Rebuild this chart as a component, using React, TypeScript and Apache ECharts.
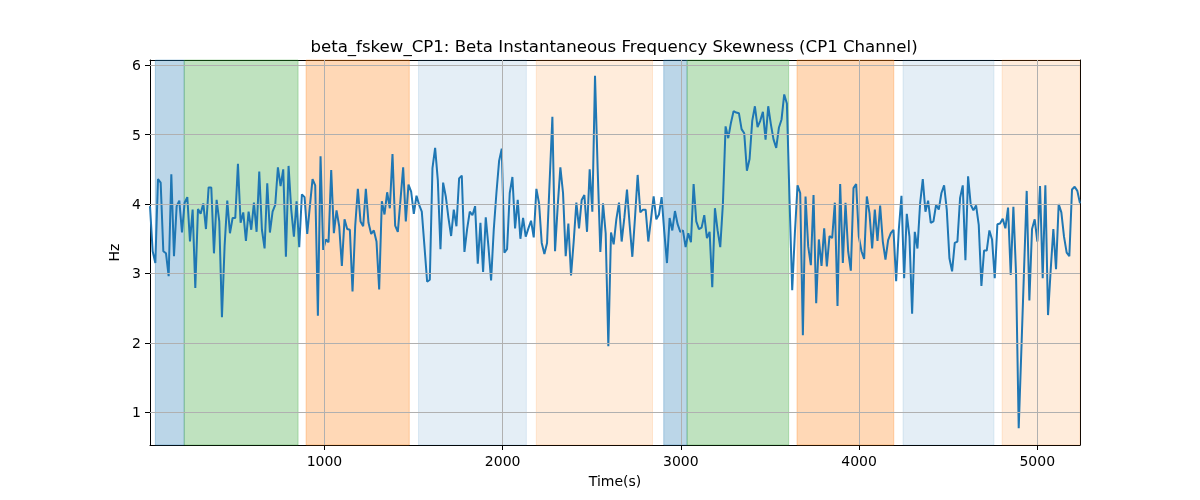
import { useEffect, useRef } from "react";
import * as echarts from "echarts";

// signal sampled at a fixed step between the first and last time stamp
const T_START = 21;
const T_END = 5240;

const SKEW_VALUES = [
  3.97, 3.32, 3.15, 4.36, 4.31, 3.32, 3.29, 2.96, 4.43, 3.25, 3.97, 4.05, 3.59, 4.02, 4.1,
  3.46, 3.92, 2.79, 3.93, 3.86, 4.01, 3.64, 4.24, 4.24, 3.29, 4.06, 3.75, 2.37, 3.4, 4.05,
  3.58, 3.8, 3.8, 4.58, 3.73, 3.88, 3.47, 3.89, 3.63, 4.02, 3.6, 4.47, 3.63, 3.36, 4.3,
  3.59, 3.89, 3.99, 4.53, 4.26, 4.5, 3.24, 4.55, 3.92, 3.53, 4.04, 3.38, 4.14, 4.1, 3.57,
  3.97, 4.36, 4.27, 2.39, 4.69, 3.34, 3.49, 3.45, 4.49, 3.58, 3.91, 3.68, 3.11, 3.78, 3.64,
  3.63, 2.74, 3.68, 4.22, 3.75, 3.68, 4.22, 3.73, 3.57, 3.62, 3.46, 2.77, 4.04, 3.85,
  4.17, 3.94, 4.72, 3.69, 3.6, 4.06, 4.53, 3.75, 4.28, 4.18, 3.86, 4.12, 3.99, 3.89, 3.39,
  2.88, 2.91, 4.52, 4.81, 4.35, 3.35, 4.31, 4.11, 3.8, 3.54, 3.92, 3.68, 4.37, 4.41, 3.31,
  3.64, 3.89, 3.84, 3.97, 3.14, 3.73, 3.02, 3.81, 3.39, 2.9, 3.63, 4.16, 4.62, 4.8,
  3.3, 3.35, 4.16, 4.39, 3.65, 4.06, 3.5, 3.8, 3.53, 3.65, 3.76, 3.52, 4.22, 4.01, 3.44,
  3.28, 3.44, 4.35, 5.26, 3.32, 3.97, 4.53, 4.16, 3.25, 3.72, 2.97, 3.46, 4.02, 3.65, 4.06,
  4.13, 3.6, 4.5, 3.89, 5.85, 4.5, 3.31, 4.01, 3.58, 1.95, 3.59, 3.42, 3.78, 4.02,
  3.46, 3.8, 4.21, 3.7, 3.24, 3.8, 4.42, 3.88, 3.92, 3.92, 3.46, 3.78, 4.11, 3.78, 3.85,
  4.1, 3.6, 3.15, 3.8, 3.62, 3.9, 3.71, 3.6, 3.62, 3.38, 3.58, 3.45, 4.29, 3.75, 3.64,
  3.66, 3.84, 3.51, 3.6, 2.8, 3.94, 3.62, 3.38, 4.01, 5.12, 4.95, 5.17, 5.34, 5.32,
  5.31, 5.08, 5.02, 4.48, 4.65, 5.2, 5.41, 5.11, 5.2, 5.33, 4.93, 5.41, 5.15, 4.93, 4.81,
  5.1, 5.22, 5.58, 5.45, 4.06, 2.76, 3.58, 4.27, 4.16, 2.11, 4.11, 3.39, 3.12, 4.13, 2.57,
  3.49, 3.11, 3.65, 3.1, 3.54, 3.51, 4.02, 2.53, 4.29, 3.15, 4.02, 3.32, 3.04, 4.23,
  4.29, 3.53, 3.32, 3.21, 4.11, 3.87, 3.36, 3.92, 3.47, 3.98, 3.46, 3.2, 3.48, 3.58, 3.63,
  2.89, 3.63, 4.12, 2.93, 3.86, 3.53, 2.42, 3.6, 3.36, 4.01, 4.36, 3.89, 4.05, 3.73, 3.75,
  3.99, 3.92, 4.16, 4.27, 3.92, 3.22, 3.03, 3.44, 3.46, 4.09, 4.27, 3.19, 4.4,
  3.99, 3.91, 3.98, 3.7, 2.82, 3.33, 3.33, 3.62, 3.49, 2.93, 3.71, 3.72, 3.79, 3.65, 3.95,
  2.98, 3.96, 3.0, 0.77, 1.9, 3.05, 4.19, 2.61, 3.64, 3.78, 3.46, 4.26, 2.93, 4.27, 2.4,
  3.05, 3.64, 3.06, 4.0, 3.88, 3.53, 3.3, 3.25, 4.21, 4.25, 4.19, 4.01,
];

// shaded stage intervals (seconds)
const SPAN_START = [51, 213, 897, 1528, 2189, 2904, 3035, 3652, 4247, 4803];
const SPAN_END = [213, 852, 1476, 2133, 2841, 3035, 3605, 4195, 4757, 5240];
const SPAN_KIND = ["blue", "green", "orange", "paleBlue", "paleOrange", "blue", "green", "orange", "paleBlue", "paleOrange"];

const X_TICKS = [1000, 2000, 3000, 4000, 5000];
const Y_TICKS = [1, 2, 3, 4, 5, 6];
const Y_MIN = 0.527;
const Y_MAX = 6.077;

const SPAN_COLORS: Record<string, string> = {
  blue: "rgba(31,119,180,0.3)",
  green: "rgba(44,160,44,0.3)",
  orange: "rgba(255,127,14,0.3)",
  paleBlue: "rgba(31,119,180,0.12)",
  paleOrange: "rgba(255,127,14,0.15)",
};

const FONT = "DejaVu Sans";

export default function App() {
  const chartRef = useRef<HTMLDivElement>(null);

  useEffect(() => {
    if (!chartRef.current) return;
    const chart = echarts.init(chartRef.current, null, { renderer: "svg" });

    const step = (T_END - T_START) / (SKEW_VALUES.length - 1);
    const lineData = SKEW_VALUES.map((v, i) => [T_START + i * step, v]);

    const spans = SPAN_START.map((s, i) => {
      const color = SPAN_COLORS[SPAN_KIND[i]];
      return [
        { xAxis: s, itemStyle: { color, borderColor: color, borderWidth: 1 } },
        { xAxis: SPAN_END[i] },
      ];
    });

    const gridLines = [
      ...X_TICKS.map((t) => ({ xAxis: t })),
      ...Y_TICKS.map((t) => ({ yAxis: t })),
    ];

    const frame = { show: true, onZero: false, lineStyle: { color: "#000", width: 1 } };
    const labelStyle = { color: "#000", fontSize: 14, fontFamily: FONT };

    chart.setOption({
      animation: false,
      title: {
        text: "beta_fskew_CP1: Beta Instantaneous Frequency Skewness (CP1 Channel)",
        left: 609,
        top: 33,
        textAlign: "center",
        textStyle: { color: "#000", fontSize: 16.6, fontWeight: "normal", fontFamily: FONT },
      },
      grid: { left: 150, right: 120, top: 60, bottom: 55 },
      xAxis: [
        {
          type: "value",
          min: T_START,
          max: T_END,
          position: "bottom",
          axisLine: frame,
          axisTick: { show: true, length: 5, customValues: X_TICKS, lineStyle: { color: "#000" } },
          axisLabel: {
            ...labelStyle,
            margin: 9,
            customValues: X_TICKS,
            formatter: (v: number) => String(v),
          },
          splitLine: { show: false },
          name: "Time(s)",
          nameLocation: "middle",
          nameGap: 29,
          nameTextStyle: labelStyle,
        },
        {
          type: "value",
          min: T_START,
          max: T_END,
          position: "top",
          axisLine: frame,
          axisTick: { show: false },
          axisLabel: { show: false },
          splitLine: { show: false },
        },
      ],
      yAxis: [
        {
          type: "value",
          min: Y_MIN,
          max: Y_MAX,
          position: "left",
          axisLine: frame,
          axisTick: { show: true, length: 5, customValues: Y_TICKS, lineStyle: { color: "#000" } },
          axisLabel: { ...labelStyle, margin: 9, customValues: Y_TICKS },
          splitLine: { show: false },
          name: "Hz",
          nameLocation: "middle",
          nameGap: 20,
          nameTextStyle: labelStyle,
        },
        {
          type: "value",
          min: Y_MIN,
          max: Y_MAX,
          position: "right",
          axisLine: frame,
          axisTick: { show: false },
          axisLabel: { show: false },
          splitLine: { show: false },
        },
      ],
      series: [
        {
          name: "spans",
          type: "line",
          data: [],
          z: 1,
          silent: true,
          markArea: { silent: true, data: spans },
        },
        {
          name: "grid",
          type: "line",
          data: [],
          z: 2,
          silent: true,
          markLine: {
            silent: true,
            symbol: "none",
            label: { show: false },
            lineStyle: { color: "#b0b0b0", width: 1, type: "solid" },
            emphasis: { disabled: true },
            data: gridLines,
          },
        },
        {
          name: "beta_fskew_CP1",
          type: "line",
          data: lineData,
          z: 3,
          showSymbol: false,
          lineStyle: { color: "#1f77b4", width: 2 },
          itemStyle: { color: "#1f77b4" },
          emphasis: { disabled: true },
        },
      ],
    });

    return () => {
      chart.dispose();
    };
  }, []);

  return (
    <div
      ref={chartRef}
      style={{ position: "fixed", left: 0, top: 0, width: "1200px", height: "500px" }}
    />
  );
}
